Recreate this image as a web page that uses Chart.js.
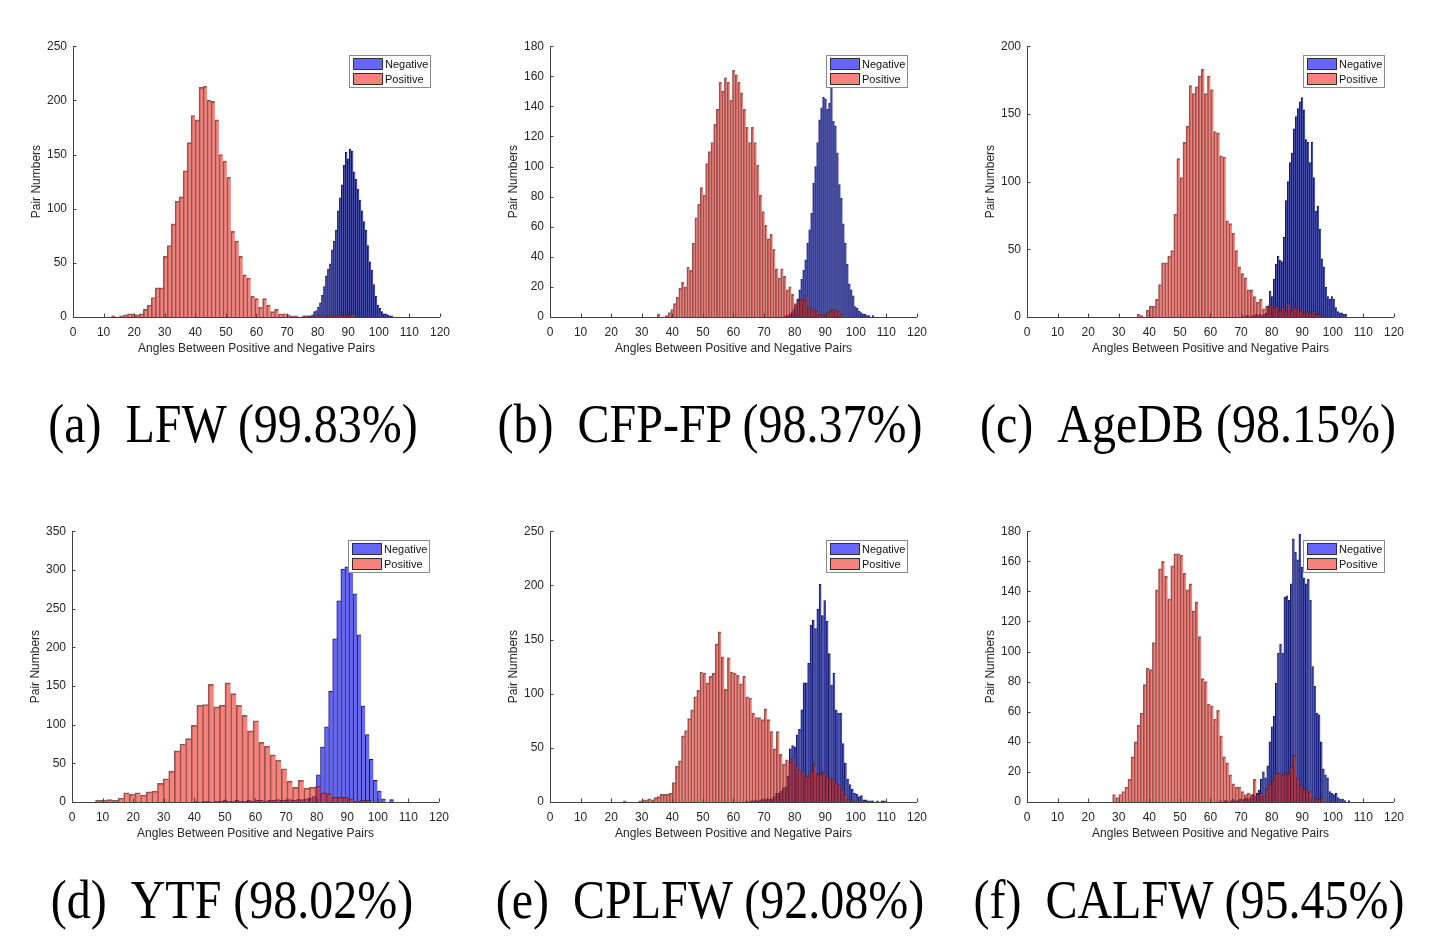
<!DOCTYPE html>
<html><head><meta charset="utf-8">
<script src="https://cdn.jsdelivr.net/npm/chart.js@4.4.1/dist/chart.umd.min.js"></script>
<style>
html,body{margin:0;padding:0;background:#fff;}
body{width:1436px;height:950px;position:relative;overflow:hidden;}
.panel{position:absolute;}
.cap{position:absolute;font-family:"Liberation Serif","Times New Roman",serif;font-size:48px;line-height:48px;white-space:pre;color:#000;transform-origin:50% 40px;}
</style></head><body>
<script>
// ---------- tick / axis labels ----------
const panelLetters = ['(a)','(b)','(c)','(d)','(e)','(f)'];
const panelNames = ['LFW','CFP-FP','AgeDB','YTF','CPLFW','CALFW'];
const panelAccuracy = ['99.83%','98.37%','98.15%','98.02%','92.08%','95.45%'];
const yMaxValues = [250,180,200,350,250,180];
const yStepValues = [50,20,50,50,50,20];
const xMin = 0, xMax = 120, xStep = 10;
const xTitle = 'Angles Between Positive and Negative Pairs';
const yTitle = 'Pair Numbers';
const seriesLabels = ['Positive','Negative'];

// ---------- histogram data (bin start, bin width, counts) ----------
const lfwPosStart = 12.6, lfwPosWidth = 1.3;
const lfwPos = [1,0,1,2,3,3,2,3,7,11,18,27,27,56,66,86,107,111,135,161,186,182,212,213,200,199,182,150,144,129,79,70,56,39,36,19,17,9,17,11,5,7,3,3,2,1,1,0,1,1,0,1,1,0,1,1,1,2,1,2,3];
const lfwNegStart = 75.4, lfwNegWidth = 0.65;
const lfwNeg = [1,0,1,1,2,5,6,9,13,20,28,38,44,49,62,70,80,98,110,122,140,152,146,155,153,134,127,118,108,98,88,80,66,51,43,30,19,11,8,5,3,3,2,1,1];

const cfpPosStart = 35.1, cfpPosWidth = 0.877;
const cfpPos = [2,0,0,1,3,5,9,13,19,23,20,33,31,49,66,75,86,81,102,110,116,128,138,156,150,159,156,144,164,161,156,149,138,126,116,126,116,101,81,70,61,52,55,45,32,26,32,27,18,20,15,9,11,12,11,14,7,6,5,4,2,1,2,3,4,5,5,4,2];
const cfpNegStart = 76.8, cfpNegWidth = 0.65;
const cfpNeg = [1,1,2,3,5,8,12,18,25,31,38,49,58,69,89,100,116,131,139,146,145,138,142,156,130,127,109,88,79,62,49,35,22,18,14,7,6,4,3,2,2,1,1,0,1];

const ageDbPosStart = 36, ageDbPosWidth = 1;
const ageDbPos = [2,1,0,5,8,8,13,24,40,40,45,49,76,117,103,129,141,171,165,170,178,183,165,178,168,137,136,119,118,71,69,62,49,37,32,29,20,20,15,11,13,6,8,9,7,8,5,7,5,10,5,7,7,5,3,4,3,4,2,2,1];
const ageDbNegStart = 70.15, ageDbNegWidth = 0.65;
const ageDbNeg = [1,0,1,1,0,1,1,2,1,2,1,2,3,8,19,15,28,39,45,42,41,59,86,100,114,121,139,148,154,159,162,153,131,129,114,129,103,78,82,65,43,37,22,15,13,15,13,7,4,3,3,2,2];

const ytfPosStart = 7.7, ytfPosWidth = 1.84;
const ytfPos = [2,2,3,2,5,12,10,12,9,13,14,24,30,40,66,75,82,99,125,126,152,123,125,154,140,125,112,92,105,77,72,61,54,43,27,19,28,18,19,20,12,11,6,6,6,4,1,2,2];
const ytfNegStart = 38.7, ytfNegWidth = 1.33;
const ytfNeg = [0,1,0,1,1,0,1,1,2,1,1,2,1,1,2,1,2,2,1,2,2,3,2,2,3,2,3,3,4,5,7,35,71,97,143,211,260,301,304,299,269,216,124,87,55,28,14,4,0,3];

const cplfwPosStart = 24, cplfwPosWidth = 1;
const cplfwPos = [1,0,0,0,0,1,2,2,3,2,4,5,7,7,7,8,18,33,38,61,66,77,85,97,103,120,119,110,116,119,146,157,134,104,133,120,119,117,109,116,97,96,82,78,78,76,86,76,65,49,65,44,35,39,37,41,34,30,28,24,24,28,35,26,26,28,24,22,21,18,16,12,7,3,2,1];
const cplfwNegStart = 64, cplfwNegWidth = 0.75;
const cplfwNeg = [1,0,1,1,2,1,2,3,2,3,3,3,5,8,8,10,13,14,24,49,52,51,62,67,85,110,110,128,163,168,160,178,201,172,186,167,137,108,119,85,82,82,54,36,21,16,12,8,7,5,6,2,2,1,1,1,0,1,0,1,1];

const calfwPosStart = 28, calfwPosWidth = 1;
const calfwPos = [5,3,5,7,10,15,30,40,51,59,78,89,88,106,141,155,160,150,135,157,165,165,164,152,141,145,127,133,110,82,80,65,64,55,61,44,30,26,18,12,10,10,7,5,6,5,15,5,6,4,9,12,15,19,19,18,19,19,23,31,16,11,9,8,7,3,2,2,3];
const calfwNegStart = 63.0, calfwNegWidth = 0.7;
const calfwNeg = [1,0,1,1,0,1,2,1,1,2,1,2,3,2,3,5,4,6,8,15,20,16,24,40,50,57,79,99,105,99,136,137,134,145,175,166,161,178,156,149,145,148,134,90,77,59,58,40,22,18,16,7,6,5,6,3,2,2,1,0,1];

// ---------- assembly ----------
const posSeries = [
  [lfwPosStart, lfwPosWidth, lfwPos], [cfpPosStart, cfpPosWidth, cfpPos], [ageDbPosStart, ageDbPosWidth, ageDbPos],
  [ytfPosStart, ytfPosWidth, ytfPos], [cplfwPosStart, cplfwPosWidth, cplfwPos], [calfwPosStart, calfwPosWidth, calfwPos]];
const negSeries = [
  [lfwNegStart, lfwNegWidth, lfwNeg], [cfpNegStart, cfpNegWidth, cfpNeg], [ageDbNegStart, ageDbNegWidth, ageDbNeg],
  [ytfNegStart, ytfNegWidth, ytfNeg], [cplfwNegStart, cplfwNegWidth, cplfwNeg], [calfwNegStart, calfwNegWidth, calfwNeg]];

function histPoints(start, width, counts) {
  return counts.map((c, i) => ({x: start + (i + 0.5) * width, y: c}));
}

// layout (plot-area origin of each panel, caption centre/baseline)
const plotW = 371, plotH = 274, yAxisW = 60, xAxisH = 50, padTop = 10, padRight = 14;
const panelPos = [[73,43],[550,43],[1027,43],[72,528],[550,528],[1027,528]];
const captionPos = [[233,442],[710,442],[1188,442],[232,918],[710,918],[1189,918]];

const axisColor = '#404040';
const textColor = '#262626';
const fontFam = '"Liberation Sans", Arial, Helvetica, sans-serif';
const posColor = 'rgba(240,40,30,0.58)';
const negSwatch = 'rgba(0,0,255,0.6)';
// narrow negative bins render dark (dense edges) in the reference; wide bins stay bright
const negFillByPanel = ['rgb(68,78,192)','rgb(68,78,192)','rgb(68,78,192)','rgb(102,102,255)','rgb(68,78,192)','rgb(68,78,192)'];
const posEdge = 'rgba(70,30,30,0.7)';
const negEdge = 'rgb(22,24,80)';

const inwardTicks = {
  id: 'inwardTicks',
  afterDatasetsDraw(chart) {
    const {ctx, chartArea: a, scales} = chart;
    ctx.save();
    ctx.strokeStyle = axisColor; ctx.lineWidth = 1;
    ctx.beginPath();
    scales.x.ticks.forEach((t, i) => {
      const p = Math.round(scales.x.getPixelForTick(i)) + 0.5;
      ctx.moveTo(p, a.bottom); ctx.lineTo(p, a.bottom - 3.5);
    });
    scales.y.ticks.forEach((t, i) => {
      const p = Math.round(scales.y.getPixelForTick(i)) + 0.5;
      ctx.moveTo(a.left, p); ctx.lineTo(a.left + 3.5, p);
    });
    ctx.stroke();
    ctx.restore();
  }
};

const boxLegend = {
  id: 'boxLegend',
  afterDraw(chart) {
    const {ctx, chartArea: a} = chart;
    const items = [chart.data.datasets[1], chart.data.datasets[0]];
    const w = 82, h = 33;
    const x0 = Math.round(a.right - 9 - w), y0 = Math.round(a.top + 9);
    ctx.save();
    ctx.fillStyle = '#fff'; ctx.fillRect(x0, y0, w, h);
    ctx.strokeStyle = '#8a8a8a'; ctx.lineWidth = 1; ctx.strokeRect(x0 + 0.5, y0 + 0.5, w - 1, h - 1);
    ctx.font = '11px ' + fontFam; ctx.textBaseline = 'middle'; ctx.textAlign = 'left';
    items.forEach((ds, i) => {
      const ry = y0 + 3 + i * 15;
      ctx.fillStyle = ds.swatchColor || ds.backgroundColor; ctx.fillRect(x0 + 4, ry, 30, 12);
      ctx.strokeStyle = '#303030'; ctx.strokeRect(x0 + 4.5, ry + 0.5, 29, 11);
      ctx.fillStyle = '#111'; ctx.fillText(ds.label, x0 + 36, ry + 6.5);
    });
    ctx.restore();
  }
};

for (let k = 0; k < 6; k++) {
  const [L, T] = panelPos[k];
  const div = document.createElement('div');
  div.className = 'panel';
  div.style.left = (L - yAxisW) + 'px';
  div.style.top = (T - padTop) + 'px';
  div.style.width = (yAxisW + plotW + padRight) + 'px';
  div.style.height = (padTop + plotH + xAxisH) + 'px';
  const cv = document.createElement('canvas');
  div.appendChild(cv);
  document.body.appendChild(div);

  const barStyle = {
    borderWidth: {top: 1, left: 1, right: 0, bottom: 0},
    borderSkipped: 'start',
    barPercentage: 1.0,
    categoryPercentage: 1.0,
    inflateAmount: 0.33,
    grouped: false
  };
  const [ps, pw, pc] = posSeries[k];
  const [ns, nw, nc] = negSeries[k];

  new Chart(cv, {
    type: 'bar',
    data: {
      datasets: [
        Object.assign({label: seriesLabels[0], data: histPoints(ps, pw, pc), backgroundColor: posColor, swatchColor: posColor, borderColor: posEdge, xAxisID: 'x', yAxisID: 'y'}, barStyle),
        Object.assign({label: seriesLabels[1], data: histPoints(ns, nw, nc), backgroundColor: negFillByPanel[k], swatchColor: negSwatch, borderColor: negEdge, xAxisID: 'x2', yAxisID: 'y'}, barStyle)
      ]
    },
    options: {
      responsive: true,
      maintainAspectRatio: false,
      animation: false,
      events: [],
      layout: {padding: {top: padTop, right: padRight, left: 0, bottom: 0}},
      plugins: {legend: {display: false}, tooltip: {enabled: false}},
      scales: {
        x: {
          type: 'linear', position: 'bottom', min: xMin, max: xMax, offset: false,
          grid: {display: false, drawTicks: false, offset: false},
          border: {display: true, color: axisColor, width: 1},
          ticks: {stepSize: xStep, padding: 8, color: textColor, font: {family: fontFam, size: 12}, maxRotation: 0, autoSkip: false},
          title: {display: true, text: xTitle, color: textColor, font: {family: fontFam, size: 12}, padding: {top: 0, bottom: 11}},
          afterFit(s) { s.height = xAxisH; }
        },
        x2: {
          type: 'linear', display: false, min: xMin, max: xMax, offset: false,
          grid: {display: false, offset: false}
        },
        y: {
          type: 'linear', position: 'left', min: 0, max: yMaxValues[k],
          grid: {display: false, drawTicks: false},
          border: {display: true, color: axisColor, width: 1},
          ticks: {stepSize: yStepValues[k], padding: 6, color: textColor, font: {family: fontFam, size: 12}},
          title: {display: true, text: yTitle, color: textColor, font: {family: fontFam, size: 12}, padding: {top: 16, bottom: 0}},
          afterFit(s) { s.width = yAxisW; }
        }
      }
    },
    plugins: [inwardTicks, boxLegend]
  });

  const cap = document.createElement('div');
  cap.className = 'cap';
  cap.textContent = panelLetters[k] + '\u2002' + panelNames[k] + ' (' + panelAccuracy[k] + ')';
  document.body.appendChild(cap);
  const [cx, base] = captionPos[k];
  cap.style.top = (base - 40) + 'px';
  cap.style.left = cx + 'px';
  cap.style.transform = 'translateX(-50%) scaleY(1.15)';
}
</script>
</body></html>
